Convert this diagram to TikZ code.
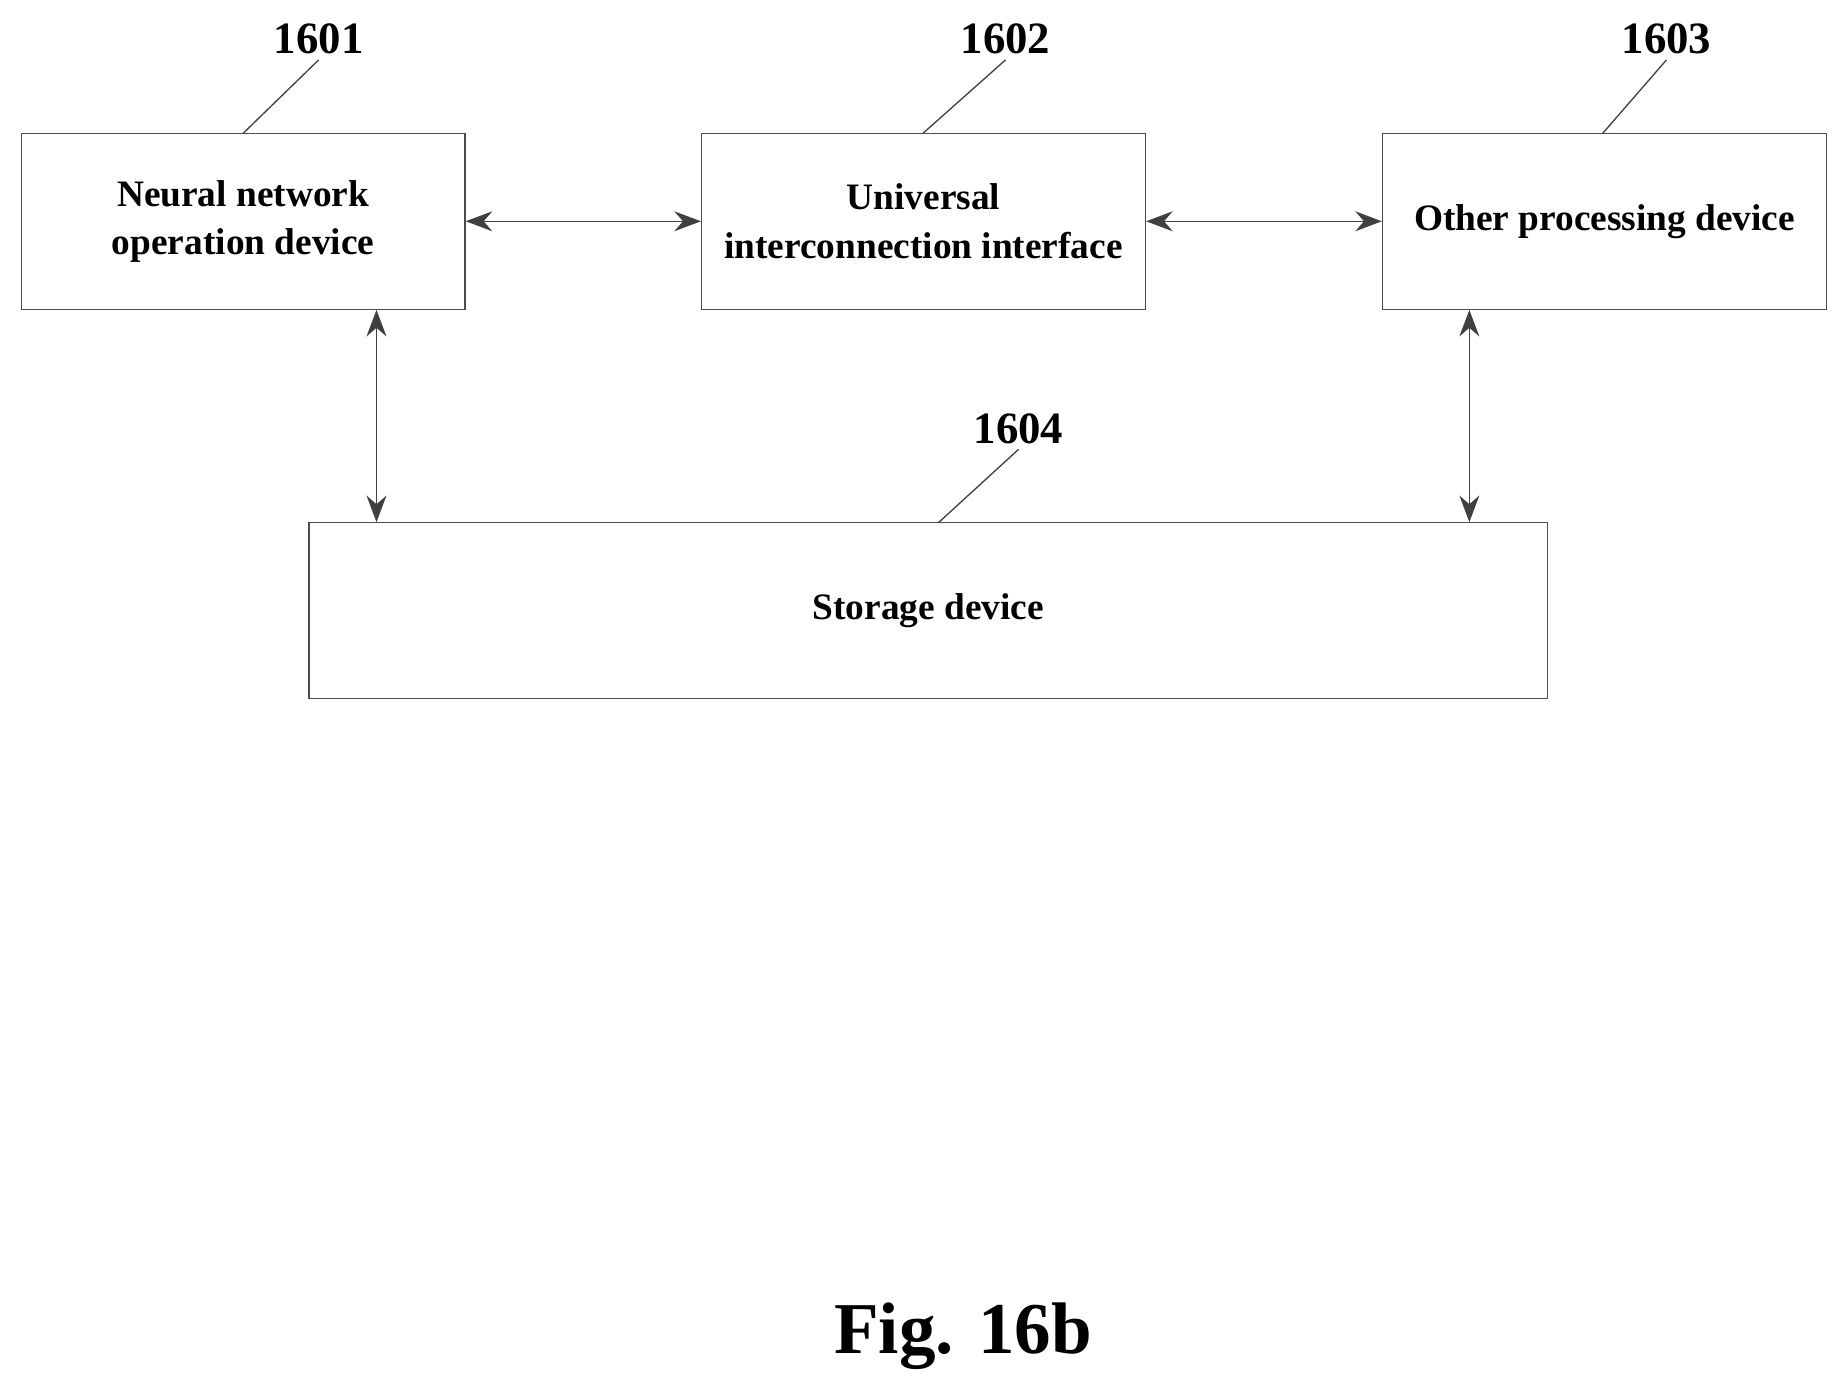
\documentclass[tikz,border=0pt]{standalone}
\usepackage{fontspec}
\setmainfont{Liberation Serif}
\usetikzlibrary{arrows.meta}
\tikzstyle{Block}=[rectangle, draw=black!70, line width=0.8pt, minimum width=9.4cm, minimum height=3.725cm, align=center, font=\bfseries\fontsize{22.5}{29}\selectfont]
\tikzstyle{Num}=[font=\bfseries\fontsize{27}{30}\selectfont]
\tikzstyle{Link}=[line width=0.9pt, black!75, {Stealth[length=16pt,width=12pt]}-{Stealth[length=16pt,width=12pt]}]

\begin{document}
\begin{tikzpicture}[x=0.025cm, y=-0.025cm]
    \useasboundingbox (0,0) rectangle (1565,1182);
    \path
    (206,187.5) node[Block] (nnd) {Neural network\\operation device}
    (782.5,187.5) node[Block] (uii) {Universal\\interconnection interface}
    (1359.5,187.5) node[Block] (opd) {Other processing device}
    (786.5,517.5) node[Block, minimum width=26.225cm] (stg) {Storage device};

    \path
    (270,33) node[Num] (n1601) {1601}
    (852,33) node[Num] (n1602) {1602}
    (1412,33) node[Num] (n1603) {1603}
    (863,363) node[Num] (n1604) {1604};

    \draw[black!75, line width=0.8pt] (n1601.south) -- (206,113);
    \draw[black!75, line width=0.8pt] (n1602.south) -- (782,113);
    \draw[black!75, line width=0.8pt] (n1603.south) -- (1358,113);
    \draw[black!75, line width=0.8pt] (n1604.south) -- (795,443);

    \draw[Link] (nnd) -- (uii);
    \draw[Link] (uii) -- (opd);
    \draw[Link] (nnd.south -| 319,0) -- (stg.north -| 319,0);
    \draw[Link] (opd.south -| 1245,0) -- (stg.north -| 1245,0);

    \node[font=\bfseries\fontsize{44}{50}\selectfont] (fig) at (816,1132) {Fig. 16b};
\end{tikzpicture}
\end{document}
